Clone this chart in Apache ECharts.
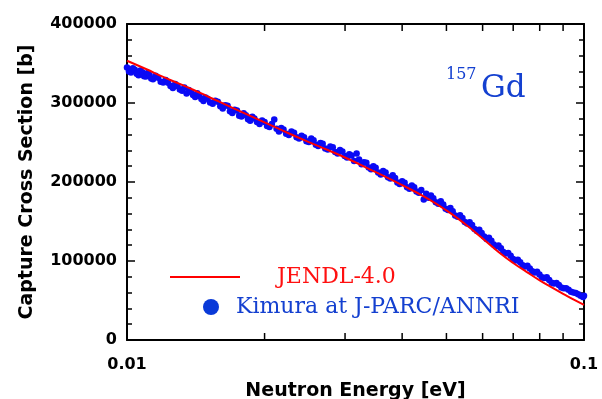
<!DOCTYPE html>
<html lang="en">
<head>
  <meta charset="UTF-8">
  <title>157Gd capture cross section</title>
  <script src="https://cdn.jsdelivr.net/npm/echarts@6/dist/echarts.min.js"></script>
  <style>
    html, body { margin: 0; padding: 0; background: #fff; }
    #chart { width: 602px; height: 399px; }
  </style>
</head>
<body>
<div id="chart"></div>
<script>
  // JENDL-4.0 evaluation (red line)
  const jendlEnergy = [0.01, 0.011, 0.012, 0.013, 0.014, 0.015, 0.016, 0.018, 0.02, 0.0225, 0.025, 0.0275, 0.03,
    0.035, 0.04, 0.045, 0.05, 0.055, 0.06, 0.065, 0.07, 0.075, 0.08, 0.085, 0.09, 0.095, 0.1];
  const jendlXs = [353500, 343000, 333000, 324500, 316500, 308500, 301000, 287500, 275500, 262000, 250500, 240500, 231000,
    212500, 196000, 180500, 164000, 146500, 128500, 111500, 97500, 86000, 75500, 66500, 58500, 51000, 44500];

  // Kimura at J-PARC/ANNRI (blue points), rows of 10
  const kimuraEnergy = [
    0.0100, 0.0101, 0.0102, 0.0103, 0.0104, 0.0105, 0.0106, 0.0107, 0.0108, 0.0109,
    0.0110, 0.0111, 0.0112, 0.0113, 0.0114, 0.01155, 0.0117, 0.01185, 0.0120, 0.01215,
    0.0123, 0.01245, 0.0126, 0.01275, 0.0129, 0.01305, 0.0132, 0.01335, 0.0135, 0.01365,
    0.0138, 0.01395, 0.0141, 0.01425, 0.0144, 0.01455, 0.0147, 0.01485, 0.0150, 0.0152,
    0.0154, 0.0156, 0.0158, 0.0160, 0.0162, 0.0164, 0.0166, 0.0168, 0.0170, 0.0172,
    0.0174, 0.0176, 0.0178, 0.0180, 0.0182, 0.0184, 0.0186, 0.0188, 0.0190, 0.01925,
    0.0195, 0.01975, 0.0200, 0.02025, 0.0205, 0.02075, 0.0210, 0.02125, 0.0215, 0.02175,
    0.0220, 0.0223, 0.0226, 0.0229, 0.0232, 0.0235, 0.0238, 0.0241, 0.0244, 0.0247,
    0.0250, 0.0253, 0.0256, 0.0259, 0.0262, 0.0265, 0.0268, 0.02715, 0.0275, 0.02785,
    0.0282, 0.02855, 0.0289, 0.02925, 0.0296, 0.02995, 0.0303, 0.03065, 0.0310, 0.0314,
    0.0318, 0.0322, 0.0326, 0.0330, 0.0334, 0.0338, 0.0342, 0.0346, 0.0350, 0.03545,
    0.0359, 0.03635, 0.0368, 0.03725, 0.0377, 0.03815, 0.0386, 0.03905, 0.0395, 0.0400,
    0.0405, 0.0410, 0.0415, 0.0420, 0.0425, 0.0430, 0.0435, 0.04405, 0.0446, 0.04515,
    0.0457, 0.04625, 0.0468, 0.0474, 0.0480, 0.0486, 0.0492, 0.0498, 0.0504, 0.0510,
    0.0516, 0.05225, 0.0529, 0.05355, 0.0542, 0.05485, 0.0555, 0.0562, 0.0569, 0.0576,
    0.0583, 0.0590, 0.0597, 0.06045, 0.0612, 0.06195, 0.0627, 0.06345, 0.0642, 0.0650,
    0.0658, 0.0666, 0.0674, 0.06825, 0.0691, 0.06995, 0.0708, 0.07165, 0.0725, 0.0734,
    0.0743, 0.0752, 0.0761, 0.07705, 0.0780, 0.07895, 0.0799, 0.0809, 0.0819, 0.0829,
    0.0839, 0.08495, 0.0860, 0.08705, 0.0881, 0.0892, 0.0903, 0.0914, 0.0925, 0.09365,
    0.0948, 0.09595, 0.0971, 0.0983, 0.0995, 0.1000];
  const kimuraXs = [
    345000, 340000, 338500, 344000, 342000, 337000, 335000, 341000, 339000, 334000,
    333500, 338000, 335500, 331000, 330000, 334500, 332000, 327000, 326000, 329000,
    325500, 321500, 319000, 324000, 321500, 317000, 315500, 319500, 312000, 316500,
    314000, 310000, 307500, 312500, 309000, 305000, 302500, 307000, 305500, 300500,
    299000, 303000, 301500, 296000, 293000, 297000, 296500, 289500, 287500, 291500,
    290500, 284000, 283000, 287000, 284500, 279500, 277500, 282500, 280500, 276000,
    273500, 278000, 276000, 271000, 269500, 273500, 279000, 267500, 264000, 268500,
    266500, 261000, 259500, 264000, 262500, 256500, 255000, 258500, 256500, 251500,
    250500, 255000, 253000, 247000, 245500, 249500, 248500, 242500, 241000, 245000,
    244000, 238000, 236000, 240500, 238500, 233000, 231000, 235000, 233500, 226500,
    236000, 228500, 222500, 225000, 224500, 218500, 216000, 220000, 218000, 212000,
    209500, 214000, 212000, 206000, 204500, 208500, 205000, 199500, 197500, 201000,
    199000, 193500, 191500, 195500, 193500, 188000, 186500, 190000, 178000, 185000,
    180000, 183000, 179500, 174500, 172500, 175500, 171500, 166000, 164500, 167000,
    163000, 157500, 156000, 158000, 154500, 149500, 147500, 149000, 145500, 140500,
    138000, 139500, 135500, 131000, 128000, 129500, 125500, 121000, 118500, 119500,
    116000, 111500, 109500, 110000, 106500, 102500, 100500, 101500, 98500, 94500,
    93000, 94000, 90500, 87000, 85500, 86500, 83000, 79500, 78500, 79500,
    76000, 72500, 71500, 72000, 69500, 66500, 65500, 65500, 63500, 61000,
    60000, 59500, 58000, 56000, 54500, 56000];

  // log minor ticks (2..9 x 0.01)
  const minorTicksX = [0.02, 0.03, 0.04, 0.05, 0.06, 0.07, 0.08, 0.09];

  const yMin = 0, yMax = 400000, yStep = 100000;

  const axisFont = { fontFamily: 'DejaVu Sans', fontWeight: 'bold', fontSize: 16, color: '#000' };
  const nameFont = { fontFamily: 'DejaVu Sans', fontWeight: 'bold', fontSize: 19, color: '#000' };
  const serif = 'DejaVu Serif';
  const blueText = '#1440d0';

  const chart = echarts.init(document.getElementById('chart'));

  function tickSeries(yVal, dir) {
    return {
      type: 'custom',
      silent: true,
      data: minorTicksX.map(e => [e, yVal]),
      renderItem: function (params, api) {
        const p = api.coord([api.value(0), api.value(1)]);
        return {
          type: 'line',
          shape: { x1: p[0], y1: p[1], x2: p[0], y2: p[1] + dir * 7 },
          style: { stroke: '#000', lineWidth: 1.5 }
        };
      },
      z: 5
    };
  }

  const yAxisBase = {
    type: 'value',
    min: yMin,
    max: yMax,
    interval: yStep,
    axisLine: { show: true, lineStyle: { color: '#000', width: 2 } },
    axisTick: { show: true, inside: true, length: 8, lineStyle: { color: '#000', width: 1.5 } },
    minorTick: { show: true, splitNumber: 5, length: 5, lineStyle: { color: '#000', width: 1.5 } },
    splitLine: { show: false },
    minorSplitLine: { show: false }
  };

  const option = {
    animation: false,
    backgroundColor: '#fff',
    grid: { left: 127, right: 18, top: 24, bottom: 59, containLabel: false, outerBoundsMode: 'none' },
    xAxis: [
      {
        type: 'log',
        logBase: 10,
        min: 0.01,
        max: 0.1,
        position: 'bottom',
        name: 'Neutron Energy [eV]',
        nameLocation: 'middle',
        nameGap: 42,
        nameTextStyle: nameFont,
        axisLine: { show: true, onZero: false, lineStyle: { color: '#000', width: 2 } },
        axisTick: { show: false },
        splitLine: { show: false },
        axisLabel: Object.assign({ margin: 17, formatter: v => String(+(+v).toPrecision(3)) }, axisFont)
      },
      {
        type: 'log',
        logBase: 10,
        min: 0.01,
        max: 0.1,
        position: 'top',
        axisLine: { show: true, onZero: false, lineStyle: { color: '#000', width: 2 } },
        axisTick: { show: false },
        axisLabel: { show: false },
        splitLine: { show: false }
      }
    ],
    yAxis: [
      Object.assign({}, yAxisBase, {
        position: 'left',
        name: 'Capture Cross Section [b]',
        nameLocation: 'middle',
        nameRotate: 90,
        nameGap: 90,
        nameTextStyle: nameFont,
        axisLabel: Object.assign({ margin: 10, formatter: v => String(v) }, axisFont)
      }),
      Object.assign({}, yAxisBase, {
        position: 'right',
        axisLabel: { show: false }
      })
    ],
    legend: [
      {
        data: [{ name: 'JENDL-4.0', icon: 'rect', itemStyle: { color: '#ff0000' } }],
        left: 170,
        top: 266,
        padding: 0,
        itemWidth: 70,
        itemHeight: 2,
        selectedMode: false,
        textStyle: { fontFamily: serif, fontSize: 22, color: '#ff1010', padding: [0, 0, 0, 32] }
      },
      {
        data: [{ name: 'Kimura at J-PARC/ANNRI', icon: 'circle', itemStyle: { color: '#0a3ad8' } }],
        left: 203,
        top: 296,
        padding: 0,
        itemWidth: 16,
        itemHeight: 16,
        selectedMode: false,
        textStyle: { fontFamily: serif, fontSize: 22, color: blueText, padding: [0, 0, 0, 12] }
      }
    ],
    graphic: [
      {
        type: 'text',
        x: 446,
        y: 75,
        style: { text: '157', font: '16px "DejaVu Serif"', fill: blueText, textVerticalAlign: 'middle' }
      },
      {
        type: 'text',
        x: 481,
        y: 89,
        style: { text: 'Gd', font: '31px "DejaVu Serif"', fill: blueText, textVerticalAlign: 'middle' }
      }
    ],
    series: [
      {
        name: 'Kimura at J-PARC/ANNRI',
        type: 'scatter',
        symbol: 'circle',
        symbolSize: 6.5,
        itemStyle: { color: '#0a0af5', opacity: 1 },
        data: kimuraEnergy.map((e, i) => [e, kimuraXs[i]]),
        z: 2
      },
      {
        name: 'JENDL-4.0',
        type: 'line',
        symbol: 'none',
        smooth: true,
        lineStyle: { color: '#ff0000', width: 2 },
        itemStyle: { color: '#ff0000' },
        data: jendlEnergy.map((e, i) => [e, jendlXs[i]]),
        z: 3
      },
      tickSeries(yMin, -1),
      tickSeries(yMax, 1)
    ]
  };

  chart.setOption(option);
</script>
</body>
</html>
